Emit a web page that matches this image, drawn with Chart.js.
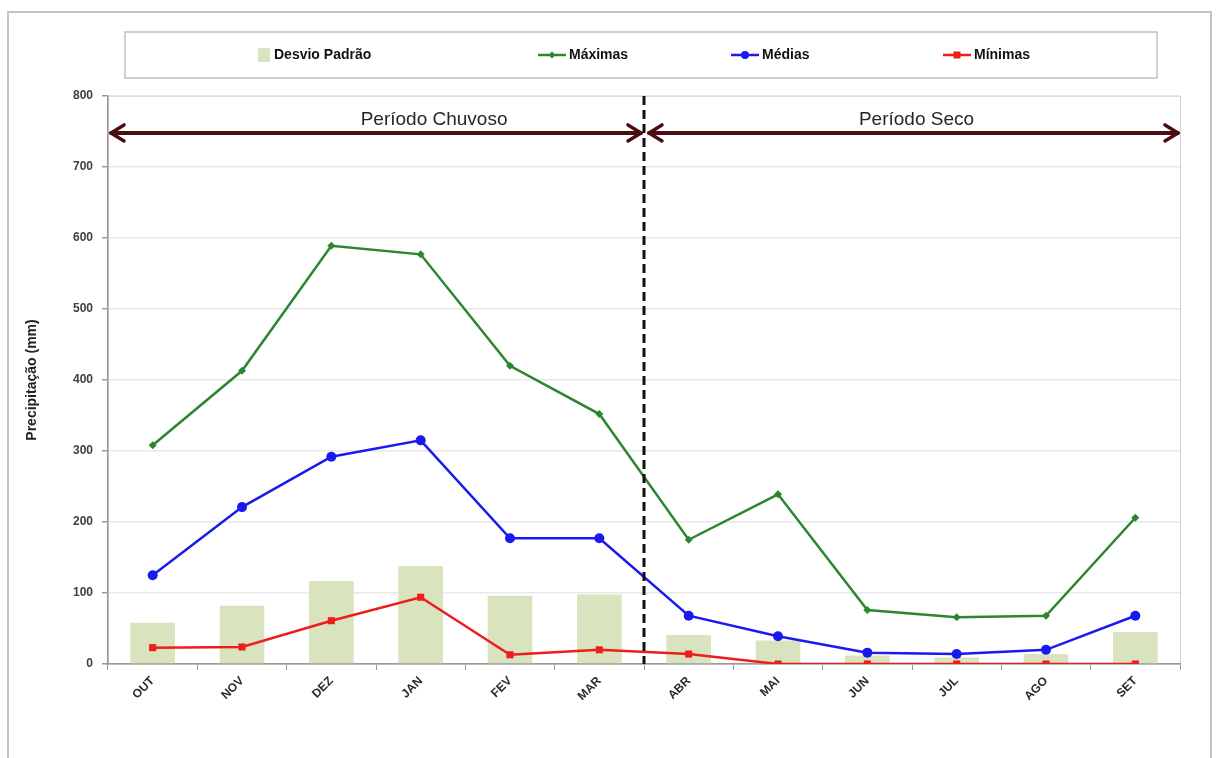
<!DOCTYPE html>
<html lang="pt">
<head>
<meta charset="utf-8">
<title>Precipitação mensal</title>
<script src="https://cdn.jsdelivr.net/npm/chart.js@4/dist/chart.umd.min.js"></script>
<style>
  html, body { margin: 0; padding: 0; background: #ffffff; }
  #wrap { width: 1216px; height: 758px; position: relative; }
</style>
</head>
<body>
<div id="wrap"><canvas id="chart" width="1216" height="758"></canvas></div>
<script>
// Meses do ano hidrológico (outubro a setembro)
const meses = ['OUT', 'NOV', 'DEZ', 'JAN', 'FEV', 'MAR', 'ABR', 'MAI', 'JUN', 'JUL', 'AGO', 'SET'];

// Precipitação (mm)
const desvioPadrao = [58, 82, 117, 138, 96, 98, 41, 33, 12, 9, 14, 45];
const maximas      = [308, 413, 589, 577, 420, 352, 175, 239, 76, 66, 68, 206];
const medias       = [125, 221, 292, 315, 177, 177, 68, 39, 16, 14, 20, 68];
const minimas      = [23, 24, 61, 94, 13, 20, 14, 0, 0, 0, 0, 0];

// Eixo Y
const yMin = 0, yMax = 800, yPasso = 100;

// Períodos: [rótulo, primeiro mês, último mês]
const periodos = [
  ['Período Chuvoso', 'OUT', 'MAR'],
  ['Período Seco', 'ABR', 'SET']
];
const alturaSeta = 748;

const FONT = '"Liberation Sans", Arial, sans-serif';

// Moldura externa, área de plotagem, setas dos períodos e linha divisória
const decoracao = {
  id: 'decoracao',
  beforeDraw(chart) {
    const { ctx, chartArea: a } = chart;
    ctx.save();
    ctx.fillStyle = '#ffffff';
    ctx.fillRect(0, 0, chart.width, chart.height);
    ctx.strokeStyle = '#c4c4c4';
    ctx.lineWidth = 2;
    ctx.strokeRect(8, 12, chart.width - 13, chart.height + 10);
    ctx.strokeStyle = '#d0d0d0';
    ctx.lineWidth = 1;
    ctx.strokeRect(a.left + 0.5, a.top + 0.5, a.right - a.left, a.bottom - a.top);
    ctx.restore();
  },
  afterDatasetsDraw(chart) {
    const { ctx, chartArea: a, scales } = chart;
    const x = scales.x, y = scales.y;
    const yArrow = y.getPixelForValue(alturaSeta);
    ctx.save();

    periodos.forEach(([rotulo, ini, fim], i) => {
      const i0 = meses.indexOf(ini), i1 = meses.indexOf(fim);
      const x0 = i0 === 0 ? a.left + 3 : x.getPixelForValue(i0 - 0.5) + 5;
      const x1 = i1 === meses.length - 1 ? a.right - 2 : x.getPixelForValue(i1 + 0.5) - 3;
      ctx.strokeStyle = '#4b0c12';
      ctx.lineWidth = 4;
      ctx.lineCap = 'round';
      ctx.lineJoin = 'round';
      ctx.beginPath();
      ctx.moveTo(x0, yArrow);
      ctx.lineTo(x1, yArrow);
      ctx.stroke();
      ctx.lineWidth = 3.5;
      ctx.beginPath();
      ctx.moveTo(x0 + 13, yArrow - 8);
      ctx.lineTo(x0, yArrow);
      ctx.lineTo(x0 + 13, yArrow + 8);
      ctx.moveTo(x1 - 13, yArrow - 8);
      ctx.lineTo(x1, yArrow);
      ctx.lineTo(x1 - 13, yArrow + 8);
      ctx.stroke();

      const centro = i === 0 ? x.getPixelForValue(3.15) : x.getPixelForValue(8.55);
      ctx.fillStyle = '#262626';
      ctx.font = '19px ' + FONT;
      ctx.textAlign = 'center';
      ctx.textBaseline = 'bottom';
      ctx.fillText(rotulo, centro, yArrow - 4);
    });

    // Linha tracejada entre os períodos
    const xd = x.getPixelForValue(meses.indexOf(periodos[1][1]) - 0.5);
    ctx.strokeStyle = '#111111';
    ctx.lineWidth = 3;
    ctx.lineCap = 'butt';
    ctx.setLineDash([9, 5]);
    ctx.beginPath();
    ctx.moveTo(xd, a.top);
    ctx.lineTo(xd, a.bottom);
    ctx.stroke();
    ctx.restore();
  }
};

// Legenda em caixa, no topo
const legendaCaixa = {
  id: 'legendaCaixa',
  afterDraw(chart) {
    const { ctx } = chart;
    const box = { left: 125, top: 32, right: 1157, bottom: 78 };
    const cy = (box.top + box.bottom) / 2;
    const inicios = [258, 538, 731, 943];
    ctx.save();
    ctx.strokeStyle = '#c0c0c0';
    ctx.lineWidth = 1.5;
    ctx.strokeRect(box.left, box.top, box.right - box.left, box.bottom - box.top);
    ctx.font = 'bold 14px ' + FONT;
    ctx.textBaseline = 'middle';
    ctx.textAlign = 'left';
    chart.data.datasets.forEach((ds, i) => {
      const x0 = inicios[i];
      let tx;
      if (ds.type === 'bar') {
        ctx.fillStyle = ds.backgroundColor;
        ctx.fillRect(x0, cy - 7, 12, 14);
        tx = x0 + 16;
      } else {
        ctx.strokeStyle = ds.borderColor;
        ctx.lineWidth = 2.5;
        ctx.beginPath();
        ctx.moveTo(x0, cy);
        ctx.lineTo(x0 + 28, cy);
        ctx.stroke();
        ctx.fillStyle = ds.borderColor;
        const r = 3.5;
        ctx.beginPath();
        if (ds.pointStyle === 'circle') ctx.arc(x0 + 14, cy, r + 0.5, 0, Math.PI * 2);
        else if (ds.pointStyle === 'rect') ctx.rect(x0 + 14 - r, cy - r, 2 * r, 2 * r);
        else { ctx.moveTo(x0 + 14, cy - r); ctx.lineTo(x0 + 14 + r, cy); ctx.lineTo(x0 + 14, cy + r); ctx.lineTo(x0 + 14 - r, cy); ctx.closePath(); }
        ctx.fill();
        tx = x0 + 31;
      }
      ctx.fillStyle = '#111111';
      ctx.fillText(ds.label, tx, cy);
    });
    ctx.restore();
  }
};

new Chart(document.getElementById('chart'), {
  data: {
    labels: meses,
    datasets: [
      {
        type: 'bar', label: 'Desvio Padrão', data: desvioPadrao,
        backgroundColor: '#d9e3be', borderWidth: 0,
        categoryPercentage: 1, barPercentage: 0.5, order: 4
      },
      {
        type: 'line', label: 'Máximas', data: maximas,
        borderColor: '#2b862f', backgroundColor: '#2b862f', borderWidth: 2.5,
        pointStyle: 'rectRot', pointRadius: 4, pointBorderWidth: 0, tension: 0, order: 3
      },
      {
        type: 'line', label: 'Médias', data: medias,
        borderColor: '#1a1aee', backgroundColor: '#1a1aee', borderWidth: 2.5,
        pointStyle: 'circle', pointRadius: 5, pointBorderWidth: 0, tension: 0, order: 2
      },
      {
        type: 'line', label: 'Mínimas', data: minimas,
        borderColor: '#ee1c1c', backgroundColor: '#ee1c1c', borderWidth: 2.5,
        pointStyle: 'rect', pointRadius: 5, pointBorderWidth: 0, tension: 0, order: 1
      }
    ]
  },
  options: {
    responsive: false,
    animation: false,
    devicePixelRatio: 1,
    layout: { padding: { left: 20, right: 36, top: 96, bottom: 10 } },
    plugins: {
      legend: { display: false },
      tooltip: { enabled: false },
      title: { display: false }
    },
    scales: {
      x: {
        offset: true,
        grid: { display: true, drawOnChartArea: false, offset: true, tickLength: 6, tickColor: '#9a9a9a' },
        border: { display: true, color: '#9a9a9a', width: 1.5 },
        ticks: {
          minRotation: 45, maxRotation: 45, padding: 4,
          color: '#2a2a2a', font: { family: FONT, size: 12, weight: 'bold' }
        },
        afterFit(scale) { scale.height = 84; }
      },
      y: {
        min: yMin, max: yMax,
        grid: { color: '#e8e8e8', lineWidth: 1.5, tickLength: 6, tickColor: '#9a9a9a' },
        border: { display: true, color: '#9a9a9a', width: 1.5 },
        ticks: {
          stepSize: yPasso, padding: 9,
          color: '#404040', font: { family: FONT, size: 12, weight: 'bold' }
        },
        title: {
          display: true, text: 'Precipitação (mm)', color: '#222222',
          font: { family: FONT, size: 14, weight: 'bold' }, padding: { top: 4, bottom: 4 }
        },
        afterFit(scale) { scale.width = 88; }
      }
    }
  },
  plugins: [decoracao, legendaCaixa]
});
</script>
</body>
</html>
